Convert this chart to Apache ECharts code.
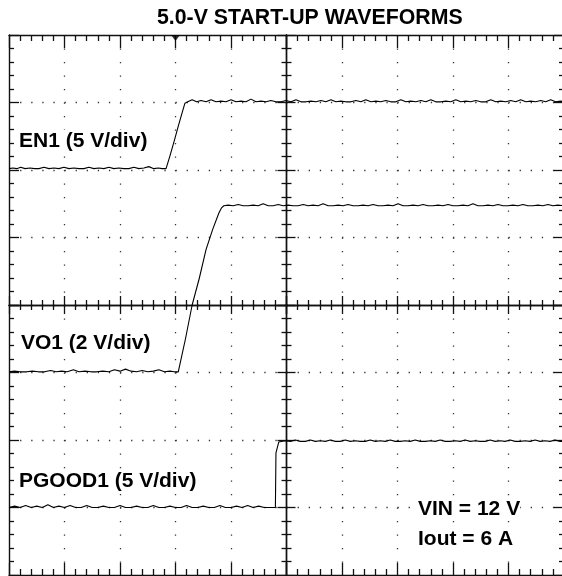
<!DOCTYPE html>
<html>
<head>
<meta charset="utf-8">
<script src="https://cdn.jsdelivr.net/npm/echarts@6/dist/echarts.min.js"></script>
<style>
  html, body { margin: 0; padding: 0; background: #fff; }
  #chart { width: 562px; height: 576px; }
</style>
</head>
<body>
<div id="chart"></div>
<script>
// time in divisions (-5..5), level in divisions (-4..4)
const triggerAt = [[-2, 4]]

const en1 = [
  [-5.00, 2.02], [-4.93, 2.03], [-4.86, 2.02], [-4.79, 2.04], [-4.71, 2.02], [-4.62, 2.03],
  [-4.54, 2.02], [-4.46, 2.02], [-4.37, 2.04], [-4.28, 2.02], [-4.19, 2.03], [-4.10, 2.02],
  [-4.01, 2.04], [-3.92, 2.02], [-3.83, 2.03], [-3.74, 2.02], [-3.65, 2.02], [-3.56, 2.04],
  [-3.47, 2.02], [-3.38, 2.03], [-3.29, 2.02], [-3.20, 2.04], [-3.11, 2.02], [-3.02, 2.03],
  [-2.93, 2.02], [-2.84, 2.02], [-2.75, 2.04], [-2.66, 2.02], [-2.57, 2.03], [-2.48, 2.05],
  [-2.39, 2.02], [-2.31, 2.03], [-2.24, 2.02], [-2.17, 2.02],
  [-2.10, 2.21], [-2.02, 2.44], [-1.95, 2.65], [-1.88, 2.85], [-1.83, 2.99],
  [-1.78, 3.01], [-1.70, 3.04], [-1.62, 3.01], [-1.54, 3.03], [-1.45, 3.01], [-1.36, 3.04],
  [-1.27, 3.01], [-1.18, 3.02], [-1.09, 3.01], [-1.00, 3.04], [-0.91, 3.01], [-0.82, 3.02],
  [-0.73, 3.01], [-0.64, 3.05], [-0.55, 3.01], [-0.46, 3.02], [-0.37, 3.01], [-0.28, 3.03],
  [-0.19, 3.01], [-0.10, 3.01], [-0.01, 3.03], [0.08, 3.01], [0.17, 3.04], [0.26, 3.01],
  [0.35, 3.01], [0.44, 3.02], [0.53, 3.01], [0.62, 3.03], [0.71, 3.01], [0.80, 3.04],
  [0.89, 3.01], [0.98, 3.02], [1.07, 3.01], [1.16, 3.01], [1.25, 3.03], [1.34, 3.01],
  [1.43, 3.04], [1.52, 3.01], [1.61, 3.02], [1.70, 3.01], [1.79, 3.03], [1.88, 3.01],
  [1.97, 3.01], [2.06, 3.04], [2.15, 3.01], [2.24, 3.02], [2.33, 3.01], [2.42, 3.03],
  [2.51, 3.01], [2.60, 3.04], [2.69, 3.01], [2.78, 3.01], [2.87, 3.02], [2.96, 3.01],
  [3.05, 3.04], [3.14, 3.01], [3.23, 3.02], [3.32, 3.01], [3.41, 3.03], [3.50, 3.01],
  [3.59, 3.01], [3.68, 3.04], [3.77, 3.01], [3.86, 3.02], [3.95, 3.01], [4.04, 3.03],
  [4.13, 3.01], [4.22, 3.04], [4.31, 3.01], [4.40, 3.02], [4.49, 3.01], [4.58, 3.03],
  [4.67, 3.01], [4.76, 3.04], [4.85, 3.01], [4.94, 3.02], [5.00, 3.01]
]

const vo1 = [
  [-5.00, -0.99], [-4.90, -0.98], [-4.80, -0.99], [-4.68, -0.99], [-4.58, -0.98], [-4.47, -0.99],
  [-4.36, -0.99], [-4.25, -0.97], [-4.15, -0.99], [-4.05, -0.98], [-3.95, -0.99], [-3.84, -0.96],
  [-3.74, -0.99], [-3.63, -0.98], [-3.52, -0.99], [-3.42, -0.99], [-3.31, -0.98], [-3.20, -0.99],
  [-3.10, -0.96], [-3.00, -0.98], [-2.90, -0.95], [-2.80, -0.98], [-2.70, -0.99], [-2.60, -0.97],
  [-2.50, -0.99], [-2.40, -0.98], [-2.30, -0.96], [-2.20, -0.99], [-2.10, -0.98], [-2.02, -0.99],
  [-1.95, -0.99],
  [-1.82, -0.50], [-1.70, 0.00], [-1.57, 0.40], [-1.45, 0.82], [-1.33, 1.12], [-1.22, 1.36],
  [-1.17, 1.44], [-1.13, 1.47],
  [-1.05, 1.48], [-0.96, 1.47], [-0.87, 1.49], [-0.78, 1.47], [-0.69, 1.47], [-0.60, 1.48],
  [-0.51, 1.47], [-0.42, 1.50], [-0.33, 1.47], [-0.24, 1.47], [-0.15, 1.49], [-0.06, 1.47],
  [0.03, 1.48], [0.12, 1.47], [0.21, 1.47], [0.30, 1.49], [0.39, 1.47], [0.48, 1.48],
  [0.57, 1.47], [0.66, 1.50], [0.75, 1.47], [0.84, 1.47], [0.93, 1.48], [1.02, 1.47],
  [1.11, 1.49], [1.20, 1.47], [1.29, 1.47], [1.38, 1.48], [1.47, 1.47], [1.56, 1.49],
  [1.65, 1.47], [1.74, 1.47], [1.83, 1.48], [1.92, 1.47], [2.01, 1.50], [2.10, 1.47],
  [2.19, 1.47], [2.28, 1.48], [2.37, 1.47], [2.46, 1.49], [2.55, 1.47], [2.64, 1.47],
  [2.73, 1.48], [2.82, 1.47], [2.91, 1.49], [3.00, 1.47], [3.09, 1.47], [3.18, 1.48],
  [3.27, 1.47], [3.36, 1.50], [3.45, 1.47], [3.54, 1.47], [3.63, 1.48], [3.72, 1.47],
  [3.81, 1.49], [3.90, 1.47], [3.99, 1.47], [4.08, 1.48], [4.17, 1.47], [4.26, 1.49],
  [4.35, 1.47], [4.44, 1.47], [4.53, 1.48], [4.62, 1.47], [4.71, 1.49], [4.80, 1.47],
  [4.89, 1.48], [5.00, 1.47]
]

const pgood1 = [
  [-5.00, -3.00], [-4.90, -2.98], [-4.80, -3.00], [-4.70, -2.97], [-4.60, -3.00], [-4.50, -2.98],
  [-4.40, -3.00], [-4.30, -2.96], [-4.20, -3.00], [-4.10, -2.98], [-4.00, -3.00], [-3.90, -2.97],
  [-3.80, -3.00], [-3.70, -3.00], [-3.60, -2.97], [-3.50, -3.00], [-3.40, -3.00], [-3.30, -2.98],
  [-3.20, -3.00], [-3.10, -3.00], [-3.00, -2.97], [-2.90, -3.00], [-2.80, -3.00], [-2.70, -2.98],
  [-2.60, -3.00], [-2.50, -3.00], [-2.40, -2.97], [-2.30, -3.00], [-2.20, -3.00], [-2.10, -2.98],
  [-2.00, -3.00], [-1.90, -3.00], [-1.80, -2.97], [-1.70, -3.00], [-1.60, -3.00], [-1.50, -2.98],
  [-1.40, -3.00], [-1.30, -3.00], [-1.20, -2.97], [-1.10, -3.00], [-1.00, -3.00], [-0.90, -2.98],
  [-0.80, -3.00], [-0.70, -2.97], [-0.60, -3.00], [-0.50, -2.98], [-0.40, -3.00], [-0.30, -3.00],
  [-0.20, -3.00],
  [-0.19, -2.19], [-0.14, -2.03], [-0.11, -2.02],
  [-0.02, -2.01], [0.07, -2.02], [0.16, -2.00], [0.25, -2.02], [0.34, -2.02], [0.43, -2.00],
  [0.52, -2.02], [0.61, -2.01], [0.70, -2.02], [0.79, -2.00], [0.88, -2.02], [0.97, -2.02],
  [1.06, -2.00], [1.15, -2.02], [1.24, -2.01], [1.33, -2.02], [1.42, -2.02], [1.51, -2.00],
  [1.60, -2.02], [1.69, -2.01], [1.78, -2.02], [1.87, -2.00], [1.96, -2.02], [2.05, -2.02],
  [2.14, -2.01], [2.23, -2.02], [2.32, -2.00], [2.41, -2.02], [2.50, -2.02], [2.59, -2.01],
  [2.68, -2.02], [2.77, -2.00], [2.86, -2.02], [2.95, -2.02], [3.04, -2.01], [3.13, -2.02],
  [3.22, -2.00], [3.31, -2.02], [3.40, -2.01], [3.49, -2.02], [3.58, -2.02], [3.67, -2.00],
  [3.76, -2.02], [3.85, -2.01], [3.94, -2.02], [4.03, -2.00], [4.12, -2.02], [4.21, -2.02],
  [4.30, -2.01], [4.39, -2.02], [4.48, -2.00], [4.57, -2.02], [4.66, -2.01], [4.75, -2.02],
  [4.84, -2.00], [4.93, -2.02], [5.00, -2.02]
]

const INK = '#111'
const FONT = 'Liberation Sans, Arial, sans-serif'

// one scope-frame axis: solid line with major + minor ticks pointing into its quadrant
function frameAxis(gridIndex, position, min, max, major, minor) {
  return {
    type: 'value',
    gridIndex: gridIndex,
    position: position,
    min: min,
    max: max,
    interval: 1,
    axisLabel: { show: false },
    splitLine: { show: false },
    axisLine: { show: true, onZero: false, lineStyle: { color: INK, width: 1.4 } },
    axisTick: { show: true, inside: true, length: major, lineStyle: { color: INK, width: 1.3 } },
    minorTick: { show: true, splitNumber: 5, length: minor, lineStyle: { color: INK, width: 1.3 } },
  }
}

function label(text, left, top) {
  return {
    text: text,
    left: left,
    top: top,
    padding: 0,
    backgroundColor: '#fff',
    textStyle: { fontSize: 21, fontWeight: 'bold', fontFamily: FONT, color: '#000', lineHeight: 23 },
  }
}

const myChart = echarts.init(document.getElementById('chart'), null, { renderer: 'canvas' })

const option = {
  animation: false,
  backgroundColor: '#fff',
  title: [
    {
      text: '5.0-V START-UP WAVEFORMS',
      left: 157,
      top: 7,
      padding: 0,
      textStyle: { fontSize: 21.3, fontWeight: 'bold', fontFamily: FONT, color: '#000', lineHeight: 23 },
    },
    label('EN1 (5 V/div)', 19, 130),
    label('VO1 (2 V/div)', 21, 332),
    label('PGOOD1 (5 V/div)', 19, 470),
    label('VIN = 12 V', 418, 498),
    label('Iout = 6 A', 418, 528),
  ],
  grid: [
    { left: 9, top: 35, width: 277.5, height: 270, outerBoundsMode: 'none' },
    { left: 286.5, top: 35, width: 277.5, height: 270, outerBoundsMode: 'none' },
    { left: 9, top: 305, width: 277.5, height: 270, outerBoundsMode: 'none' },
    { left: 286.5, top: 305, width: 277.5, height: 270, outerBoundsMode: 'none' },
    { left: 9, top: 35, width: 555, height: 540, outerBoundsMode: 'none' },
  ],
  xAxis: [
    frameAxis(0, 'top', -5, 0, 13, 6),
    frameAxis(0, 'bottom', -5, 0, 9, 5),
    frameAxis(1, 'top', 0, 5, 13, 6),
    frameAxis(1, 'bottom', 0, 5, 9, 5),
    frameAxis(2, 'top', -5, 0, 9, 5),
    frameAxis(2, 'bottom', -5, 0, 12, 6),
    frameAxis(3, 'top', 0, 5, 9, 5),
    frameAxis(3, 'bottom', 0, 5, 12, 6),
    {
      type: 'value',
      gridIndex: 4,
      min: -5,
      max: 5,
      interval: 1,
      axisLine: { show: false },
      axisTick: { show: false },
      axisLabel: { show: false },
      splitLine: {
        show: true,
        showMinLine: false,
        showMaxLine: false,
        lineStyle: { color: '#333', width: 1.3, type: [1.3, 12.2] },
      },
    },
  ],
  yAxis: [
    frameAxis(0, 'left', 0, 4, 10, 5),
    frameAxis(0, 'right', 0, 4, 9, 5),
    frameAxis(1, 'left', 0, 4, 9, 5),
    frameAxis(1, 'right', 0, 4, 10, 5),
    frameAxis(2, 'left', -4, 0, 10, 5),
    frameAxis(2, 'right', -4, 0, 9, 5),
    frameAxis(3, 'left', -4, 0, 9, 5),
    frameAxis(3, 'right', -4, 0, 10, 5),
    {
      type: 'value',
      gridIndex: 4,
      min: -4,
      max: 4,
      interval: 1,
      axisLine: { show: false },
      axisTick: { show: false },
      axisLabel: { show: false },
      splitLine: {
        show: true,
        showMinLine: false,
        showMaxLine: false,
        lineStyle: { color: '#333', width: 1.3, type: [1.3, 9.8] },
      },
    },
  ],
  series: [
    {
      name: 'EN1',
      type: 'line',
      xAxisIndex: 8,
      yAxisIndex: 8,
      showSymbol: false,
      z: 3,
      lineStyle: { color: '#000', width: 1.1 },
      data: en1,
    },
    {
      name: 'VO1',
      type: 'line',
      xAxisIndex: 8,
      yAxisIndex: 8,
      showSymbol: false,
      z: 3,
      lineStyle: { color: '#000', width: 1.1 },
      data: vo1,
    },
    {
      name: 'PGOOD1',
      type: 'line',
      xAxisIndex: 8,
      yAxisIndex: 8,
      showSymbol: false,
      z: 3,
      lineStyle: { color: '#000', width: 1.1 },
      data: pgood1,
    },
    {
      name: 'trigger',
      type: 'scatter',
      xAxisIndex: 8,
      yAxisIndex: 8,
      clip: false,
      symbol: 'path://M0,0 L10,0 L5,7 Z',
      symbolSize: [9, 6],
      symbolOffset: [0, 3],
      itemStyle: { color: '#000' },
      z: 4,
      data: triggerAt,
    },
  ],
}

myChart.setOption(option)
</script>
</body>
</html>
